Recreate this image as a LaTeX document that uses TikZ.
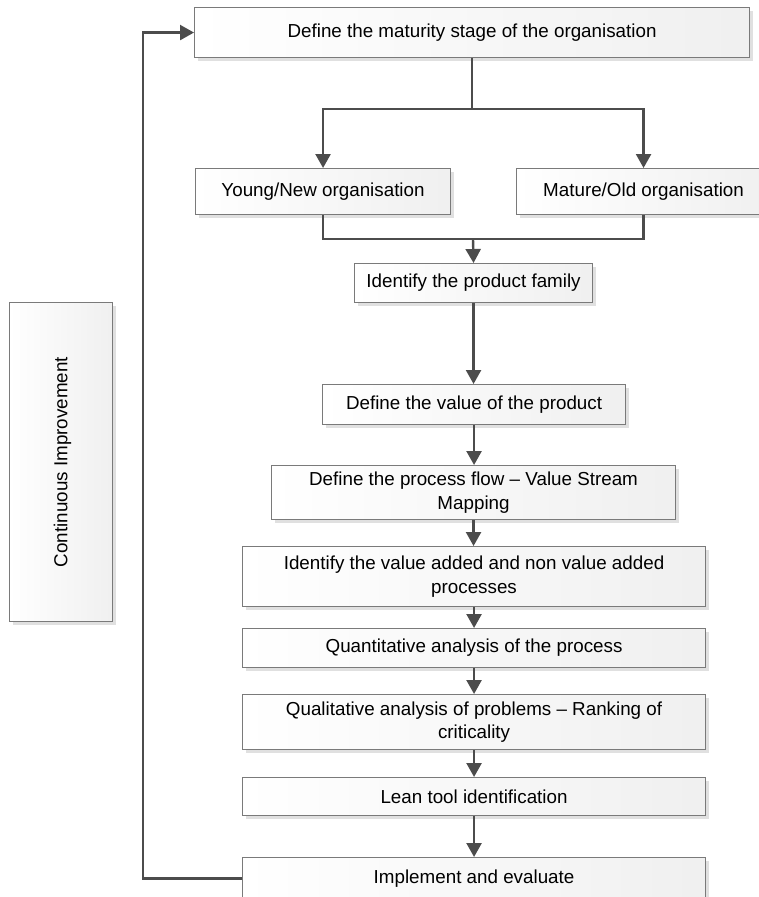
\documentclass[tikz,border=0pt]{standalone}
\usepackage{fontspec}
\setmainfont{Liberation Sans}
\usetikzlibrary{arrows.meta,shadows}
\begin{document}
\begin{tikzpicture}[x=1pt,y=-1pt,
  box/.style={draw=black!52, line width=1.1pt, left color=white, right color=black!6,
    drop shadow={shadow xshift=3pt, shadow yshift=-3pt, fill=black!12, opacity=1},
    inner sep=0pt, align=center, font=\fontsize{18.8}{23.5}\selectfont, anchor=north west},
  lbl/.style={font=\fontsize{18.8}{23.5}\selectfont, inner sep=0pt},
  conn/.style={draw=black!70, line width=2.4pt},
  arr/.style={conn, -{Triangle[width=15pt,length=14pt]}}]
\useasboundingbox (0,0) rectangle (758,897);

\node[box, minimum width=555pt, minimum height=50pt] (top) at (194,7) {Define the maturity stage of the organisation};
\node[box, minimum width=255pt, minimum height=46pt] (young) at (195,168) {Young/New organisation};
\node[box, minimum width=254pt, minimum height=46pt] (mature) at (516,168) {Mature/Old organisation};
\node[box, minimum width=238pt, minimum height=39pt] (family) at (354,263) {Identify the product family};
\node[box, minimum width=303pt, minimum height=40pt] (value) at (322,384) {Define the value of the product};
\node[box, minimum width=404pt, minimum height=54pt] (process) at (271,465) {Define the process flow -- Value Stream\\Mapping};
\node[box, minimum width=463pt, minimum height=60pt] (ident) at (242,546) {Identify the value added and non value added\\processes};
\node[box, minimum width=463pt, minimum height=39pt] (quant) at (242,628) {Quantitative analysis of the process};
\node[box, minimum width=463pt, minimum height=55pt] (qual) at (242,694) {Qualitative analysis of problems -- Ranking of\\criticality};
\node[box, minimum width=463pt, minimum height=38pt] (lean) at (242,777) {Lean tool identification};
\node[box, minimum width=463pt, minimum height=42pt] (impl) at (242,857) {Implement and evaluate};

\node[box, minimum width=103pt, minimum height=319pt] (ci) at (9,302) {};
\node[lbl, rotate=90] (citext) at ([xshift=1.5pt]ci.center) {Continuous Improvement};

\draw[arr] (top.south) -- ++(0,51) -| (young.north);
\draw[arr] (top.south) -- ++(0,51) -| (mature.north);
\coordinate (join) at (473,239);
\draw[conn] (young.south) |- (join) -| (mature.south);
\draw[arr] (join) -- (family.north);
\draw[arr] (family.south) -- (family.south |- value.north);
\draw[arr] (value.south) -- (value.south |- process.north);
\draw[arr] (process.south) -- (process.south |- ident.north);
\draw[arr] (ident.south) -- (quant.north);
\draw[arr] (quant.south) -- (qual.north);
\draw[arr] (qual.south) -- (lean.north);
\draw[arr] (lean.south) -- (impl.north);
\draw[arr] (impl.west) -- ++(-99,0) |- (top.west);
\end{tikzpicture}
\end{document}
